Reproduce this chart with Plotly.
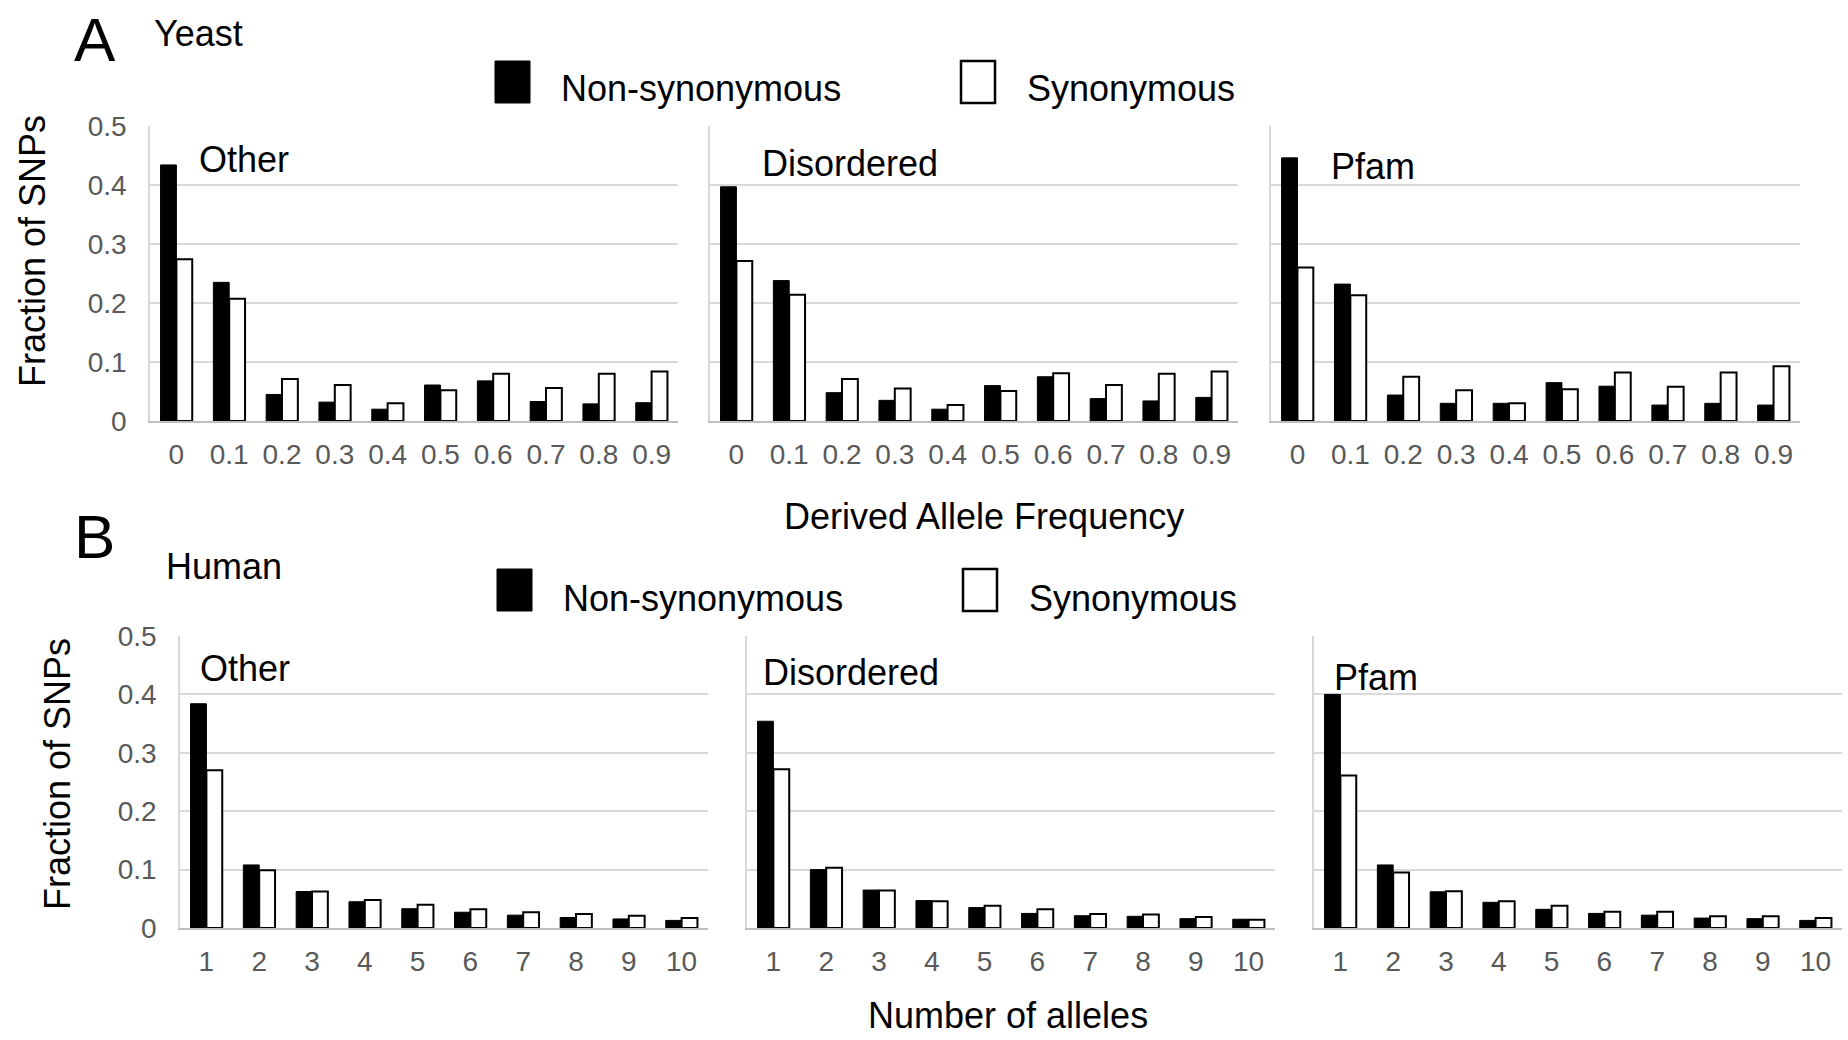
import plotly.graph_objects as go

# ---------------- data ----------------
yeast_freq = ["0", "0.1", "0.2", "0.3", "0.4", "0.5", "0.6", "0.7", "0.8", "0.9"]
human_alleles = ["1", "2", "3", "4", "5", "6", "7", "8", "9", "10"]

yeast_other_ns = [0.434, 0.235, 0.045, 0.032, 0.020, 0.061, 0.068, 0.033, 0.029, 0.031]
yeast_other_s = [0.274, 0.207, 0.071, 0.061, 0.030, 0.052, 0.080, 0.056, 0.080, 0.084]
yeast_dis_ns = [0.397, 0.238, 0.048, 0.035, 0.020, 0.060, 0.075, 0.038, 0.034, 0.040]
yeast_dis_s = [0.271, 0.214, 0.071, 0.055, 0.027, 0.051, 0.081, 0.061, 0.080, 0.084]
yeast_pfam_ns = [0.446, 0.232, 0.044, 0.030, 0.030, 0.065, 0.059, 0.027, 0.030, 0.027]
yeast_pfam_s = [0.260, 0.213, 0.075, 0.052, 0.030, 0.054, 0.082, 0.058, 0.082, 0.093]

human_other_ns = [0.384, 0.108, 0.0625, 0.045, 0.033, 0.027, 0.022, 0.018, 0.0155, 0.013]
human_other_s = [0.270, 0.099, 0.0625, 0.048, 0.040, 0.032, 0.027, 0.024, 0.021, 0.017]
human_dis_ns = [0.354, 0.100, 0.065, 0.047, 0.035, 0.025, 0.021, 0.020, 0.016, 0.015]
human_dis_s = [0.272, 0.103, 0.064, 0.046, 0.038, 0.032, 0.024, 0.023, 0.019, 0.014]
human_pfam_ns = [0.400, 0.108, 0.062, 0.044, 0.032, 0.025, 0.022, 0.017, 0.016, 0.013]
human_pfam_s = [0.261, 0.095, 0.063, 0.046, 0.038, 0.028, 0.028, 0.020, 0.020, 0.017]

panel_names = ["Other", "Disordered", "Pfam"]
series_names = ["Non-synonymous", "Synonymous"]

# ---------------- layout helpers ----------------
W, H = 1848, 1040
FONT = "Liberation Sans, Arial, sans-serif"
TXT = 36
TICK = 28


def px_x(v):
    return v / W


def px_y(v):
    return 1 - v / H


panels = [
    # (categories, ns, s, x0, x1, ytop, ybottom, label pos)
    (yeast_freq, yeast_other_ns, yeast_other_s, 150, 678, 126, 421, (197, 159)),
    (yeast_freq, yeast_dis_ns, yeast_dis_s, 710, 1238, 126, 421, (760, 163)),
    (yeast_freq, yeast_pfam_ns, yeast_pfam_s, 1271, 1800, 126, 421, (1329, 166)),
    (human_alleles, human_other_ns, human_other_s, 180, 708, 636, 928, (198, 668)),
    (human_alleles, human_dis_ns, human_dis_s, 747, 1275, 636, 928, (761, 672)),
    (human_alleles, human_pfam_ns, human_pfam_s, 1314, 1842, 636, 928, (1332, 677)),
]

fig = go.Figure()
layout = dict(
    width=W, height=H,
    margin=dict(l=0, r=0, t=0, b=0, pad=0, autoexpand=False),
    paper_bgcolor="white", plot_bgcolor="white",
    barmode="group", bargap=0.4, bargroupgap=0,
    showlegend=False,
    font=dict(family=FONT, color="black"),
)
annotations = []

for i, (cats, ns, s, x0, x1, yt, yb, lab) in enumerate(panels):
    n = i + 1
    xa = "x" if n == 1 else f"x{n}"
    ya = "y" if n == 1 else f"y{n}"
    fig.add_trace(go.Bar(x=cats, y=ns, name=series_names[0], xaxis=xa, yaxis=ya,
                         marker=dict(color="black", line=dict(color="black", width=1))))
    fig.add_trace(go.Bar(x=cats, y=s, name=series_names[1], xaxis=xa, yaxis=ya,
                         marker=dict(color="white", line=dict(color="black", width=2))))
    first = (i % 3 == 0)
    layout["xaxis" if n == 1 else f"xaxis{n}"] = dict(
        domain=[px_x(x0), px_x(x1)], anchor=ya, type="category", automargin=False,
        range=[-0.5, 9.5], showgrid=False, zeroline=False,
        showline=True, linecolor="#bfbfbf", linewidth=2,
        ticks="", ticklabelstandoff=7,
        tickfont=dict(size=TICK, color="#595959", family=FONT),
    )
    layout["yaxis" if n == 1 else f"yaxis{n}"] = dict(
        domain=[px_y(yb), px_y(yt)], anchor=xa, automargin=False,
        range=[0, 0.5], dtick=0.1, tick0=0,
        showgrid=True, gridcolor="#d9d9d9", gridwidth=1.5,
        showline=True, linecolor="#d9d9d9", linewidth=1.5, zeroline=False,
        ticks="", showticklabels=first, ticklabelstandoff=16,
        tickfont=dict(size=TICK, color="#595959", family=FONT),
    )
    annotations.append(dict(text=panel_names[i % 3], x=px_x(lab[0]), y=px_y(lab[1]),
                            xref="paper", yref="paper", xanchor="left", yanchor="middle",
                            showarrow=False, font=dict(size=TXT, color="black", family=FONT)))


def ann(text, x, y, size, xanchor="left", angle=0):
    annotations.append(dict(text=text, x=px_x(x), y=px_y(y), xref="paper", yref="paper",
                            xanchor=xanchor, yanchor="middle", showarrow=False, textangle=angle,
                            font=dict(size=size, color="black", family=FONT)))


ann("A", 72, 40, 62)
ann("Yeast", 152, 34, TXT)
ann("B", 72, 536, 62)
ann("Human", 164, 566, TXT)
ann("Derived Allele Frequency", 984, 516, TXT, xanchor="center")
ann("Number of alleles", 1008, 1015, TXT, xanchor="center")
ann("Fraction of SNPs", 32, 251, TXT, xanchor="center", angle=-90)
ann("Fraction of SNPs", 57, 774, TXT, xanchor="center", angle=-90)

# legends (drawn as swatches + text)
shapes = []
for (bx, by, tx, ty) in [(495, 61, 559, 88), (497, 569, 561, 598)]:
    shapes.append(dict(type="rect", xref="paper", yref="paper",
                       x0=px_x(bx), x1=px_x(bx + 35), y0=px_y(by + 42), y1=px_y(by),
                       fillcolor="black", line=dict(color="black", width=1)))
    shapes.append(dict(type="rect", xref="paper", yref="paper",
                       x0=px_x(bx + 466), x1=px_x(bx + 500), y0=px_y(by + 42), y1=px_y(by),
                       fillcolor="white", line=dict(color="black", width=2.5)))
    ann(series_names[0], tx, ty, TXT)
    ann(series_names[1], tx + 466, ty, TXT)

layout["annotations"] = annotations
layout["shapes"] = shapes
fig.update_layout(**layout)
fig.write_html("out.html")
